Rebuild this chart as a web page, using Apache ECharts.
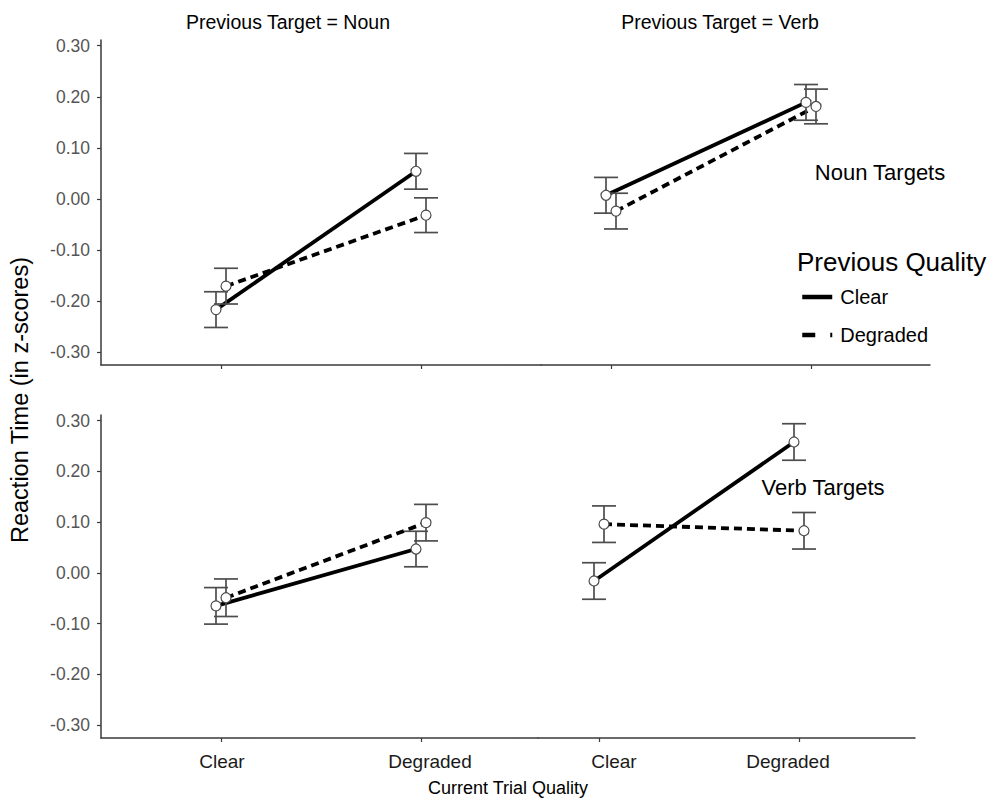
<!DOCTYPE html>
<html><head><meta charset="utf-8">
<script src="https://cdn.jsdelivr.net/npm/echarts@6/dist/echarts.min.js"></script>
<style>html,body{margin:0;padding:0;background:#fff}#c{width:990px;height:800px}</style>
</head><body><div id="c"></div>
<script>
// ---------- data ----------
const categories = ['Clear', 'Degraded'];
const yTicks = [-0.3, -0.2, -0.1, 0, 0.1, 0.2, 0.3];
const panelTitles = ['Previous Target = Noun', 'Previous Target = Verb'];
const rowLabels = ['Noun Targets', 'Verb Targets'];
const legendNames = ['Clear', 'Degraded'];
const legendTitle = 'Previous Quality';
const xTitle = 'Current Trial Quality';
const yTitle = 'Reaction Time (in z-scores)';

// means (Current trial: Clear, Degraded)
const nounPrevNounClear = [-0.217, 0.054];
const nounPrevNounDegraded = [-0.171, -0.032];
const nounPrevVerbClear = [0.007, 0.189];
const nounPrevVerbDegraded = [-0.024, 0.181];
const verbPrevNounClear = [-0.065, 0.047];
const verbPrevNounDegraded = [-0.049, 0.099];
const verbPrevVerbClear = [-0.016, 0.258];
const verbPrevVerbDegraded = [0.096, 0.083];

// standard errors
const nounPrevNounClearSE = [0.035, 0.035];
const nounPrevNounDegradedSE = [0.035, 0.034];
const nounPrevVerbClearSE = [0.035, 0.035];
const nounPrevVerbDegradedSE = [0.035, 0.034];
const verbPrevNounClearSE = [0.036, 0.035];
const verbPrevNounDegradedSE = [0.037, 0.036];
const verbPrevVerbClearSE = [0.036, 0.036];
const verbPrevVerbDegradedSE = [0.036, 0.036];

// ---------- layout ----------
const FONT = "'Liberation Sans', Arial, Helvetica, sans-serif";
const Y_MIN = -0.3255, Y_MAX = 0.3112;
const DODGE = 0.025;
const panels = [
  { grid: { left: 101, top: 40, width: 440, height: 325 }, xmin: 0.4, xmax: 2.6, yAxis: true, labels: false,
    clear: nounPrevNounClear, deg: nounPrevNounDegraded, clearSE: nounPrevNounClearSE, degSE: nounPrevNounDegradedSE },
  { grid: { left: 541, top: 40, width: 389, height: 325 }, xmin: 0.65, xmax: 2.595, yAxis: false, labels: false,
    clear: nounPrevVerbClear, deg: nounPrevVerbDegraded, clearSE: nounPrevVerbClearSE, degSE: nounPrevVerbDegradedSE },
  { grid: { left: 101, top: 415, width: 437, height: 323 }, xmin: 0.4, xmax: 2.585, yAxis: true, labels: true, shift: [1, 9],
    clear: verbPrevNounClear, deg: verbPrevNounDegraded, clearSE: verbPrevNounClearSE, degSE: verbPrevNounDegradedSE },
  { grid: { left: 538, top: 415, width: 377, height: 323 }, xmin: 0.695, xmax: 2.58, yAxis: false, labels: true, shift: [15, -11],
    clear: verbPrevVerbClear, deg: verbPrevVerbDegraded, clearSE: verbPrevVerbClearSE, degSE: verbPrevVerbDegradedSE }
];

const AXIS_COLOR = '#3a3a3a';
const grids = [], xAxes = [], yAxes = [], series = [];

panels.forEach((p, gi) => {
  grids.push(Object.assign({ containLabel: false }, p.grid));
  const rich = {};
  if (p.shift) {
    p.shift.forEach((s, i) => {
      rich['c' + i] = { fontSize: 19, color: '#1a1a1a', fontFamily: FONT,
        padding: s >= 0 ? [0, 0, 0, 2 * s] : [0, -2 * s, 0, 0] };
    });
  }
  xAxes.push({
    type: 'value', gridIndex: gi, min: p.xmin, max: p.xmax,
    splitLine: { show: false },
    axisLine: { show: true, onZero: false, lineStyle: { color: AXIS_COLOR, width: 1.5 } },
    axisTick: { show: true, length: 4, customValues: [1, 2], lineStyle: { color: AXIS_COLOR, width: 1.2 } },
    axisLabel: {
      show: p.labels, customValues: [1, 2], margin: 14,
      fontSize: 19, color: '#1a1a1a', fontFamily: FONT,
      formatter: v => { const i = Math.round(v) - 1; return p.shift ? '{c' + i + '|' + categories[i] + '}' : categories[i]; },
      rich: rich
    }
  });
  yAxes.push({
    type: 'value', gridIndex: gi, min: Y_MIN, max: Y_MAX,
    splitLine: { show: false },
    axisLine: { show: p.yAxis, onZero: false, lineStyle: { color: AXIS_COLOR, width: 1.5 } },
    axisTick: { show: p.yAxis, length: 4, customValues: yTicks, lineStyle: { color: AXIS_COLOR, width: 1.2 } },
    axisLabel: { show: p.yAxis, customValues: yTicks, margin: 11, fontSize: 17.5, color: '#555', fontFamily: FONT,
      formatter: v => (Math.abs(v) < 1e-9 ? 0 : v).toFixed(2) }
  });

  const groups = [
    { name: legendNames[0], vals: p.clear, se: p.clearSE, off: -DODGE, dash: 'solid' },
    { name: legendNames[1], vals: p.deg, se: p.degSE, off: DODGE, dash: [8, 5] }
  ];
  groups.forEach(g => {
    const pts = g.vals.map((v, i) => [i + 1 + g.off, v]);
    series.push({
      type: 'line', name: g.name, xAxisIndex: gi, yAxisIndex: gi, data: pts,
      symbol: 'none', z: 2, silent: true, animation: false,
      itemStyle: { color: '#000' },
      lineStyle: { color: '#000', width: 3.8, type: g.dash, cap: 'butt' }
    });
    series.push({
      type: 'custom', name: g.name + ' SE', xAxisIndex: gi, yAxisIndex: gi, z: 3, animation: false, silent: true,
      data: g.vals.map((v, i) => [i + 1 + g.off, v, v - g.se[i], v + g.se[i]]),
      encode: { x: 0, y: [2, 3] },
      renderItem: (params, api) => {
        const x = api.value(0);
        const top = api.coord([x, api.value(3)]);
        const bot = api.coord([x, api.value(2)]);
        const hw = 12;
        const st = { stroke: '#4d4d4d', lineWidth: 1.7 };
        return { type: 'group', children: [
          { type: 'line', shape: { x1: top[0], y1: top[1], x2: bot[0], y2: bot[1] }, style: st },
          { type: 'line', shape: { x1: top[0] - hw, y1: top[1], x2: top[0] + hw, y2: top[1] }, style: st },
          { type: 'line', shape: { x1: bot[0] - hw, y1: bot[1], x2: bot[0] + hw, y2: bot[1] }, style: st }
        ]};
      }
    });
    series.push({
      type: 'scatter', name: g.name + ' pts', xAxisIndex: gi, yAxisIndex: gi, data: pts, z: 4,
      symbol: 'circle', symbolSize: 10, animation: false, silent: true,
      itemStyle: { color: '#fff', borderColor: '#4d4d4d', borderWidth: 1.2, opacity: 1 }
    });
  });
});

const textEl = (x, y, text, size, extra) => Object.assign({
  type: 'text', x: x, y: y, silent: true,
  style: { text: text, fontSize: size, fontFamily: FONT, fill: '#000', align: 'center', verticalAlign: 'middle' }
}, extra || {});

const graphics = [
  textEl(288, 22, panelTitles[0], 19.5),
  textEl(720, 22, panelTitles[1], 19.5),
  textEl(880, 172, rowLabels[0], 22),
  textEl(823, 487, rowLabels[1], 22),
  textEl(508, 788, xTitle, 18),
  Object.assign(textEl(20, 400, yTitle, 23.5), { rotation: Math.PI / 2 }),
  { type: 'text', x: 797, y: 262, silent: true,
    style: { text: legendTitle, fontSize: 26, fontFamily: FONT, fill: '#000', align: 'left', verticalAlign: 'middle' } }
];

const chart = echarts.init(document.getElementById('c'), null, { renderer: 'svg', width: 990, height: 800 });
chart.setOption({
  backgroundColor: '#fff',
  animation: false,
  grid: grids,
  xAxis: xAxes,
  yAxis: yAxes,
  series: series,
  legend: {
    data: [
      { name: legendNames[0], lineStyle: { type: 'solid', width: 4.5 } },
      { name: legendNames[1], lineStyle: { type: [13, 15], width: 4.5 } }
    ],
    orient: 'vertical', left: 800, top: 287, padding: 0, itemGap: 18,
    itemWidth: 30, itemHeight: 14, selectedMode: false,
    itemStyle: { color: 'transparent', borderColor: 'transparent', borderWidth: 0, opacity: 0 },
    textStyle: { fontSize: 20, color: '#000', fontFamily: FONT, padding: [0, 0, 0, 3] }
  },
  graphic: graphics
});
</script>
</body></html>
